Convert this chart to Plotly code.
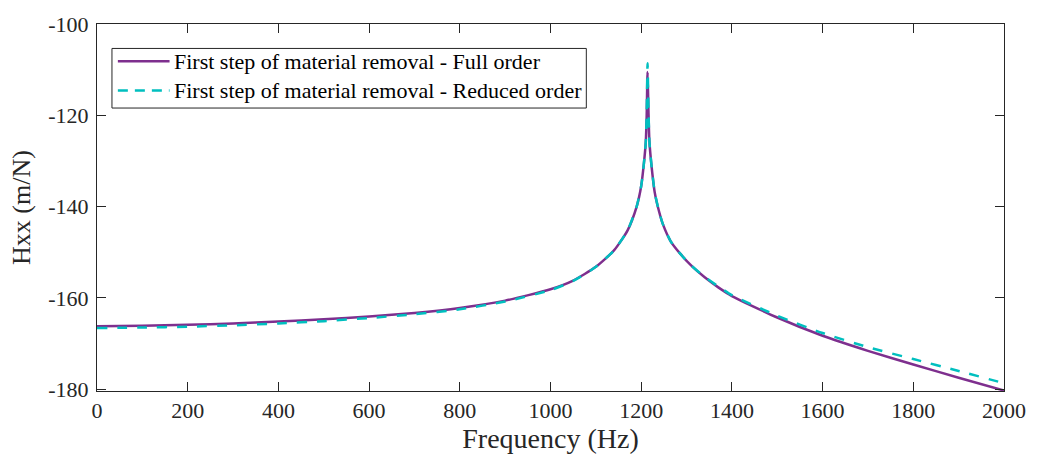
import plotly.graph_objects as go

# Frequency response magnitude, Hxx (dB re 1 m/N), read at selected frequencies
freq_full = [0, 100, 200, 300, 400, 500, 600, 700, 800, 900, 1000, 1050, 1100,
             1140, 1170, 1190, 1200, 1206, 1210, 1212, 1214, 1216, 1218, 1222,
             1230, 1240, 1248, 1265, 1285, 1310, 1340, 1370, 1400, 1500, 1600, 1700,
             1800, 1900, 2000]
hxx_full = [-166.2, -166.1, -165.9, -165.6, -165.2, -164.7, -164.1, -163.3, -162.2,
            -160.6, -158.1, -156.2, -153.2, -149.6, -145.2, -140.0, -135.5, -130.5,
            -126.0, -120.5, -110.5, -119.0, -125.5, -130.3, -137.0, -141.3, -143.9,
            -147.6, -150.2, -152.9, -155.5, -157.7, -159.6, -164.3, -168.3, -171.6,
            -174.6, -177.5, -180.3]

freq_red = [0, 100, 200, 300, 400, 500, 600, 700, 800, 900, 1000, 1050, 1100,
            1140, 1170, 1190, 1200, 1206, 1210, 1212, 1214, 1216, 1218, 1222,
            1230, 1240, 1248, 1265, 1285, 1310, 1340, 1370, 1400, 1500, 1600, 1700,
            1800, 1900, 2000]
hxx_red = [-166.6, -166.5, -166.3, -166.0, -165.6, -165.1, -164.4, -163.6, -162.5,
           -160.8, -158.3, -156.3, -153.2, -149.6, -145.2, -140.0, -135.5, -130.5,
           -126.0, -120.0, -108.6, -118.5, -125.5, -130.3, -137.0, -141.3, -143.9,
           -147.6, -150.2, -152.9, -155.4, -157.5, -159.4, -163.9, -167.7, -170.8,
           -173.4, -176.0, -178.7]

series_names = ["First step of material removal - Full order",
                "First step of material removal - Reduced order"]

x_ticks = [0, 200, 400, 600, 800, 1000, 1200, 1400, 1600, 1800, 2000]
y_ticks = [-180, -160, -140, -120, -100]
y_tick_text = ["-180", "-160", "-140", "-120", "-100"]

FONT = "Liberation Serif, Times New Roman, serif"
AXIS_COLOR = "#262626"
COLOR_FULL = "#7E2F8E"
COLOR_RED = "#00BFBF"

fig = go.Figure()
fig.add_trace(go.Scatter(
    x=freq_full, y=hxx_full, mode="lines", name=series_names[0],
    line=dict(color=COLOR_FULL, width=2.5, shape="spline", smoothing=0.6),
))
fig.add_trace(go.Scatter(
    x=freq_red, y=hxx_red, mode="lines", name=series_names[1],
    line=dict(color=COLOR_RED, width=2.5, dash="10px,10px", shape="spline", smoothing=0.6),
))

axis_common = dict(
    showgrid=False, zeroline=False,
    showline=True, linecolor=AXIS_COLOR, linewidth=1, mirror="ticks",
    ticks="inside", ticklen=9, tickwidth=1, tickcolor=AXIS_COLOR,
    tickfont=dict(family=FONT, size=22, color=AXIS_COLOR),
)

# Boxed legend in the upper-left corner of the axes (paper coords = plot area)
box = dict(x0=0.0165, x1=0.5395, y0=0.771, y1=0.9334)
rows_y = [0.8988, 0.8189]
sample_x = (0.0230, 0.0800)
text_x = 0.0822

shapes = [dict(type="rect", xref="paper", yref="paper", layer="above",
               fillcolor="white", line=dict(color=AXIS_COLOR, width=1), **box)]
shapes.append(dict(type="line", xref="paper", yref="paper", layer="above",
                   x0=sample_x[0], x1=sample_x[1], y0=rows_y[0], y1=rows_y[0],
                   line=dict(color=COLOR_FULL, width=2.5)))
shapes.append(dict(type="line", xref="paper", yref="paper", layer="above",
                   x0=sample_x[0], x1=sample_x[1], y0=rows_y[1], y1=rows_y[1],
                   line=dict(color=COLOR_RED, width=2.5, dash="10px,7px")))

annotations = [dict(xref="paper", yref="paper", x=text_x, y=ry, text=name,
                    showarrow=False, xanchor="left", yanchor="middle",
                    font=dict(family=FONT, size=22, color="black"))
               for name, ry in zip(series_names, rows_y)]

fig.update_layout(
    width=1038, height=462,
    margin=dict(l=97, r=29, t=16, b=71),
    paper_bgcolor="white", plot_bgcolor="white",
    font=dict(family=FONT, color=AXIS_COLOR),
    xaxis=dict(range=[0, 2000], tickvals=x_ticks,
               title=dict(text="Frequency (Hz)", font=dict(family=FONT, size=28), standoff=2),
               **axis_common),
    yaxis=dict(range=[-180.4, -100], tickvals=y_ticks, ticktext=y_tick_text,
               ticklabelstandoff=3,
               title=dict(text="Hxx (m/N)", font=dict(family=FONT, size=26), standoff=10),
               **axis_common),
    shapes=shapes,
    annotations=annotations,
    showlegend=False,
)

fig.write_html("out.html")
